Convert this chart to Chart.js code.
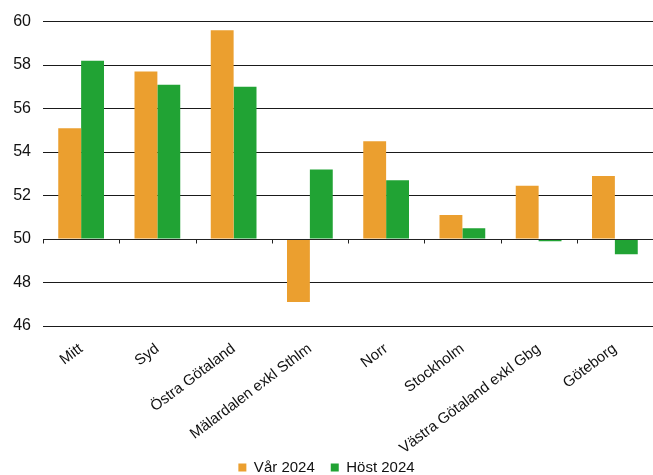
<!DOCTYPE html>
<html>
<head>
<meta charset="utf-8">
<script src="https://cdn.jsdelivr.net/npm/chart.js@4"></script>
<style>
  html, body { margin: 0; padding: 0; background: #fff; }
  #wrap { width: 653px; height: 475px; }
</style>
</head>
<body>
<div id="wrap"><canvas id="regionChart"></canvas></div>
<script>
// Regions and the two survey rounds
const regions = ['Mitt', 'Syd', 'Östra Götaland', 'Mälardalen exkl Sthlm', 'Norr', 'Stockholm', 'Västra Götaland exkl Gbg', 'Göteborg'];
const spring2024 = [55.1, 57.7, 59.6, 47.1, 54.5, 51.1, 52.45, 52.9];
const autumn2024 = [58.2, 57.1, 57.0, 53.2, 52.7, 50.5, 49.9, 49.3];
const yTicks = [46, 48, 50, 52, 54, 56, 58, 60];
const baseLine = 50;

const ORANGE = '#EB9F2F';
const GREEN = '#21A334';
const FONT = 'Liberation Sans, Arial, sans-serif';

// small tick marks on the 50-line between the region groups
const baseTicks = {
    id: 'baseTicks',
    afterLayout(chart) {
        // long rotated names may run a bit below the axis box, don't clip them
        chart.scales.x._computeLabelArea = () => undefined;
    },
    afterDatasetsDraw(chart) {
        const x = chart.scales.x;
        const y = chart.scales.y;
        const ctx = chart.ctx;
        const py = Math.round(y.getPixelForValue(baseLine)) + 0.5;
        ctx.save();
        ctx.strokeStyle = '#222';
        ctx.lineWidth = 1;
        ctx.beginPath();
        for (let i = 0; i <= regions.length; i++) {
            let px;
            if (i === 0) px = x.left;
            else if (i === regions.length) px = x.right;
            else px = (x.getPixelForValue(i - 1) + x.getPixelForValue(i)) / 2;
            px = Math.round(px) + 0.5;
            ctx.moveTo(px, py);
            ctx.lineTo(px, py + 4);
        }
        ctx.moveTo(x.left, py);
        ctx.lineTo(x.right, py);
        ctx.stroke();
        ctx.restore();
    }
};

new Chart(document.getElementById('regionChart'), {
    type: 'bar',
    data: {
        labels: regions,
        datasets: [
            { label: 'Vår 2024', data: spring2024, backgroundColor: ORANGE, base: baseLine },
            { label: 'Höst 2024', data: autumn2024, backgroundColor: GREEN, base: baseLine }
        ]
    },
    options: {
        responsive: true,
        maintainAspectRatio: false,
        animation: false,
        datasets: { bar: { categoryPercentage: 0.6, barPercentage: 1.0 } },
        layout: { padding: { top: -2, right: 0, left: 0, bottom: -10 } },
        plugins: {
            tooltip: { enabled: false },
            legend: {
                position: 'bottom',
                labels: {
                    color: '#111',
                    boxWidth: 8,
                    boxHeight: 8,
                    padding: 16,
                    font: { family: FONT, size: 15 }
                }
            }
        },
        scales: {
            x: {
                afterFit(scale) { scale.height = 118; },
                grid: { display: false },
                border: { display: false },
                ticks: {
                    color: '#111',
                    maxRotation: 37,
                    minRotation: 37,
                    autoSkip: false,
                    padding: 6,
                    font: { family: FONT, size: 15 }
                }
            },
            y: {
                min: 46,
                max: 60,
                afterBuildTicks(scale) { scale.ticks = yTicks.map(v => ({ value: v })); },
                afterFit(scale) { scale.width = 43; },
                grid: { color: '#1a1a1a', lineWidth: 1, drawTicks: false },
                border: { display: false },
                ticks: {
                    color: '#111',
                    padding: 12,
                    font: { family: FONT, size: 16 }
                }
            }
        }
    },
    plugins: [baseTicks]
});
</script>
</body>
</html>
